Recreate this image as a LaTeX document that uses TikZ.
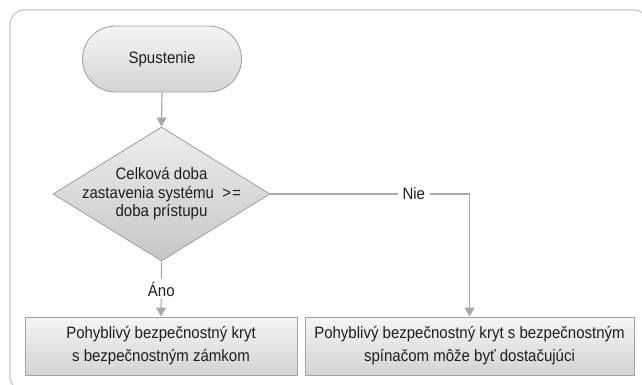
\documentclass[tikz,border=0pt]{standalone}
\usepackage{fontspec}
\setmainfont{Liberation Sans}[FakeStretch=0.91]
\usetikzlibrary{arrows.meta,shapes.geometric}
\definecolor{linecol}{HTML}{A8A8A8}
\definecolor{bordcol}{HTML}{A4A4A4}
\definecolor{framecol}{HTML}{C8C8C8}
\definecolor{txtcol}{HTML}{1E1E1E}
\tikzset{
  conn/.style={draw=linecol, line width=1.2pt, -{Triangle[length=9pt,width=10pt]}},
  boxshade/.style={draw=bordcol, line width=0.9pt, top color=white!96!black, bottom color=white!83!black},
  startbox/.style={boxshade, rectangle, rounded corners=33pt, minimum width=159pt, minimum height=66pt,
    font=\fontsize{16.5}{18.5}\selectfont, text=txtcol},
  decbox/.style={draw=bordcol, line width=0.9pt, diamond, minimum width=217pt, minimum height=134pt,
    inner sep=0pt, top color=white!93!black, bottom color=white!78!black},
  dectext/.style={align=center, font=\fontsize{16.5}{18.5}\selectfont, text=txtcol},
  procbox/.style={boxshade, rectangle, minimum height=58pt, align=center,
    font=\fontsize{16.5}{23}\selectfont, text=txtcol},
  lbl/.style={fill=white, inner sep=3pt, font=\fontsize{16.5}{18}\selectfont, text=txtcol}
}
\begin{document}
\begin{tikzpicture}[x=1pt,y=-1pt]
\clip (0,0) rectangle (642,385);
\fill[white] (0,0) rectangle (642,385);
\draw[framecol, line width=1.2pt, rounded corners=14pt] (10,10) rectangle (648,391);
\node[startbox] (start) at (162,59) {Spustenie};
\node[decbox] (dec) at (161.5,194) {};
\node[dectext] (dectxt) at (161.5,194) {Celková doba\\zastavenia systému\ \ >\kern1pt=\\doba prístupu};
\node[procbox, minimum width=272pt] (lbox) at (161,346) {Pohyblivý bezpečnostný kryt\\s bezpečnostným zámkom};
\node[procbox, minimum width=329pt] (rbox) at (469.5,346) {Pohyblivý bezpečnostný kryt s bezpečnostným\\spínačom môže byť dostačujúci};
\draw[conn] (start.south) -- (dec.north);
\draw[conn] (dec.south) -- node[lbl] (ano) {Áno} (lbox.north);
\draw[conn] (dec.east) -| node[lbl, pos=0.36, inner xsep=5pt] (nie) {Nie} (rbox.north);
\end{tikzpicture}
\end{document}
